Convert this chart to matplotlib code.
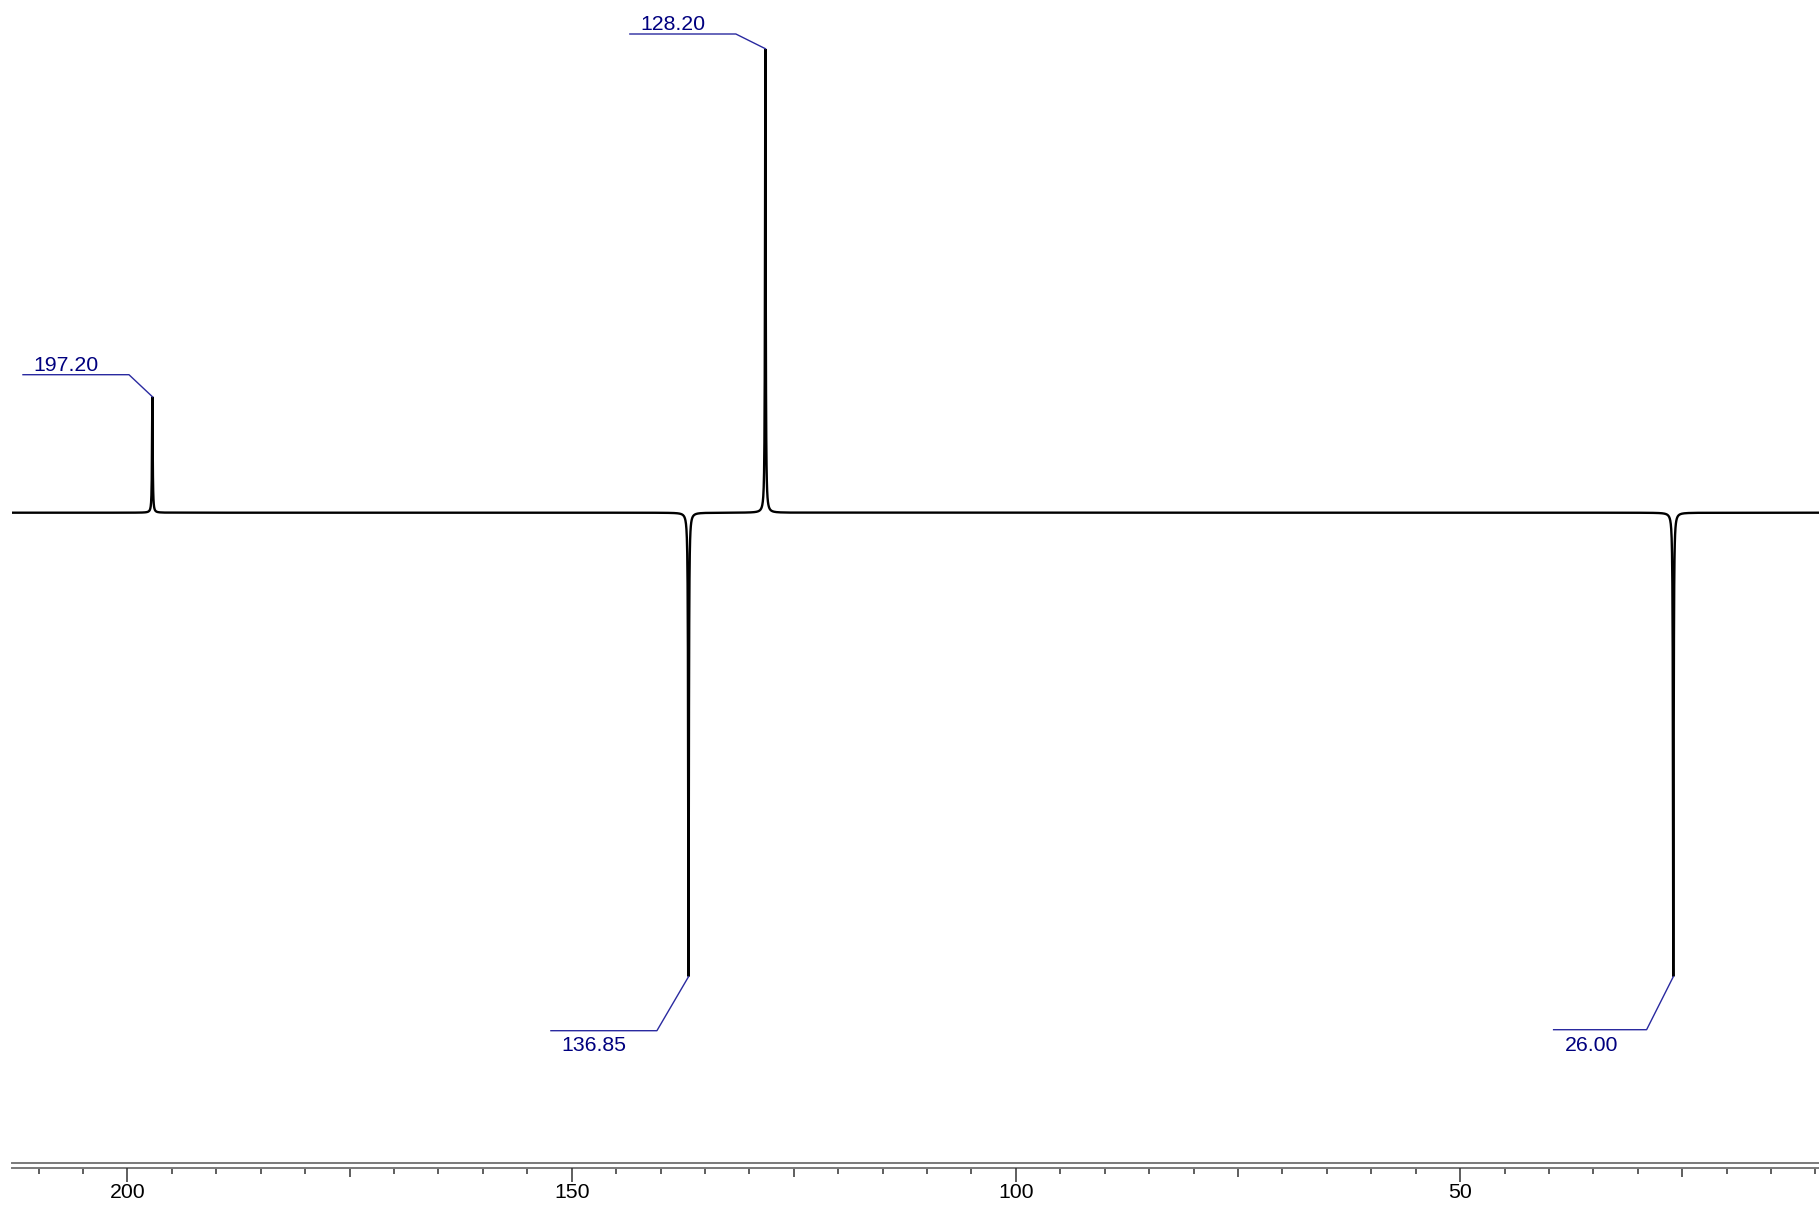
import numpy as np
import matplotlib
matplotlib.use("Agg")
import matplotlib.pyplot as plt
import matplotlib.transforms as mtransforms
from matplotlib.lines import Line2D

plt.rcParams['font.family'] = ['Liberation Sans', 'DejaVu Sans']

# ---- data ----
peak_ppm = [197.20, 136.85, 128.20, 26.00]
peak_intensity = [0.25, -1.0, 1.0, -1.0]
peak_labels = ["197.20", "136.85", "128.20", "26.00"]
major_ticks = [200, 150, 100, 50]
major_tick_labels = ["200", "150", "100", "50"]

# ---- layout ----
W, H, DPI = 1819, 1206, 100
fig = plt.figure(figsize=(W / DPI, H / DPI), dpi=DPI)
fig.patch.set_facecolor("white")

x_left_px = 12
xlim = (213.0, 9.6)
base_px = 512.7
scale_px = 464.0
ylim = ((base_px - H) / scale_px, base_px / scale_px)

ax = fig.add_axes([x_left_px / W, 0, (W - x_left_px) / W, 1])
ax.set_xlim(*xlim)
ax.set_ylim(*ylim)
ax.axis("off")

# spectrum (Lorentzian line shapes)
hwhm = 0.045
x = np.arange(xlim[1], xlim[0], 0.003)
y = np.zeros_like(x)
for p, a in zip(peak_ppm, peak_intensity):
    y += a * hwhm**2 / ((x - p) ** 2 + hwhm**2)
ax.plot(x, y, color="black", lw=1.7, solid_joinstyle="miter")

# peak labels with leader lines (offsets in pixels from the peak tip)
label_geom = {
    "197.20": dict(elbow=(-23.4, 22), start=(-129.4, 22), text=(-119.4, 26), va="baseline"),
    "128.20": dict(elbow=(-29.5, 14.7), start=(-135.5, 14.7), text=(-124.5, 19), va="baseline"),
    "136.85": dict(elbow=(-31.6, -54), start=(-137.6, -54), text=(-127.0, -74), va="baseline"),
    "26.00": dict(elbow=(-26.7, -53), start=(-119.7, -53), text=(-108.7, -74), va="baseline"),
}
label_color = "#00007f"
line_color = "#2a2aa0"
for p, a, lab in zip(peak_ppm, peak_intensity, peak_labels):
    g = label_geom[lab]
    tr = mtransforms.Affine2D() + mtransforms.ScaledTranslation(p, a, ax.transData)
    xs = [0, g["elbow"][0], g["start"][0]]
    ys = [0, g["elbow"][1], g["start"][1]]
    ax.add_line(Line2D(xs, ys, transform=tr, color=line_color, lw=1.0, clip_on=False))
    ax.text(g["text"][0], g["text"][1], lab, transform=tr, color=label_color,
            fontsize=15.3, ha="left", va=g["va"])

# ---- ppm scale ----
spine_px = 1167.5
upper_px = 1163.0
axis_gray = "#7a7a7a"

ax2 = fig.add_axes([x_left_px / W, 1 - spine_px / H, (W - x_left_px) / W, 1e-5])
ax2.set_xlim(*xlim)
ax2.patch.set_visible(False)
for s in ["top", "left", "right"]:
    ax2.spines[s].set_visible(False)
ax2.spines["bottom"].set_color(axis_gray)
ax2.spines["bottom"].set_linewidth(1.4)
ax2.set_yticks([])
minor = [v for v in range(10, 215, 5) if v % 25 != 0]
medium = [v for v in range(25, 215, 25) if v % 50 != 0]
ax2.set_xticks(medium)
ax2.set_xticklabels([])
ax2.set_xticks(minor, minor=True)
ax2.tick_params(axis="x", which="major", direction="out", length=6.5, width=1.1, color="#333333")
ax2.tick_params(axis="x", which="minor", direction="out", length=4.5, width=1.1, color="#333333")

ax3 = fig.add_axes([x_left_px / W, 1 - spine_px / H, (W - x_left_px) / W, 1e-5])
ax3.set_xlim(*xlim)
ax3.patch.set_visible(False)
for s in ["top", "left", "right", "bottom"]:
    ax3.spines[s].set_visible(False)
ax3.set_yticks([])
ax3.set_xticks(major_ticks)
ax3.set_xticklabels(major_tick_labels, fontsize=15.3)
ax3.tick_params(axis="x", which="major", direction="out", length=10, width=1.1,
                color="#333333", pad=1.5)

fig.add_artist(Line2D([x_left_px / W, 1], [1 - upper_px / H, 1 - upper_px / H],
                      transform=fig.transFigure, color=axis_gray, lw=1.4))

fig.savefig("out.png", dpi=DPI, facecolor="white")
